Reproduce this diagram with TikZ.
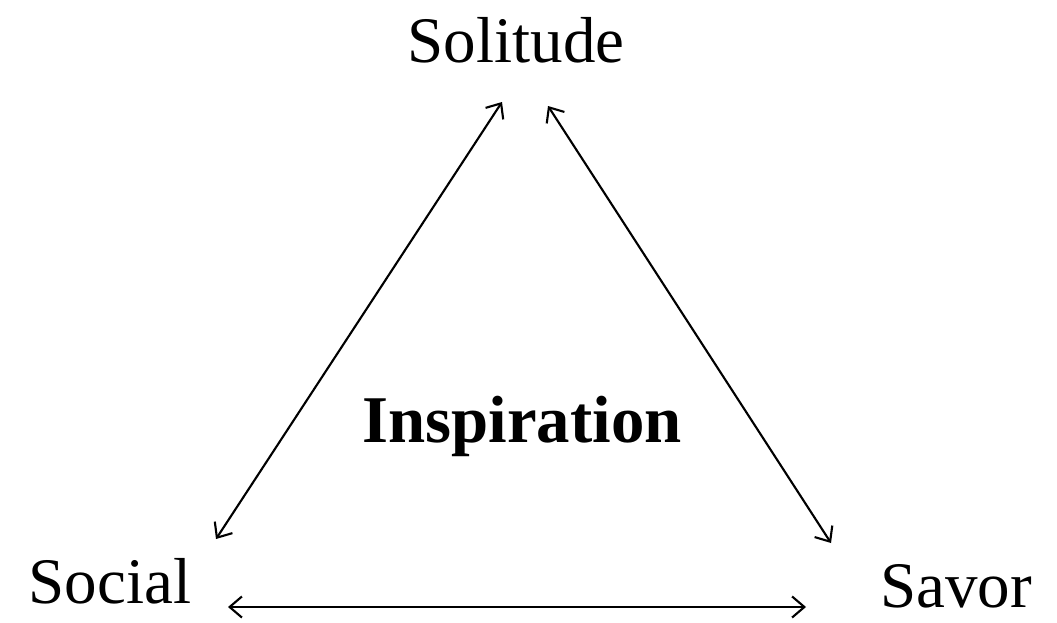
\documentclass[tikz,border=0pt]{standalone}
\usepackage{fontspec}
\setmainfont{Liberation Serif}
\usetikzlibrary{arrows.meta}

\begin{document}
\begin{tikzpicture}[
  x=0.02cm, y=-0.02cm,
  lbl/.style={font=\fontsize{37}{40}\selectfont, anchor=base, inner sep=0pt},
  core/.style={font=\fontsize{38}{42}\selectfont\bfseries, anchor=base, inner sep=0pt},
  arr/.style={{Straight Barb[length=7pt,width=12pt]}-{Straight Barb[length=7pt,width=12pt]},
    line width=1.2pt, draw=black},
]
\useasboundingbox (0,0) rectangle (1057,622);
% corners
\node[lbl] (sol) at (516,62) {Solitude};
\node[lbl] (soc) at (110,603) {Social};
\node[lbl] (sav) at (956,607) {Savor};
\node[core] (insp) at (522,442) {Inspiration};
% arrow ends
\coordinate (sol-l) at (502,102);
\coordinate (sol-r) at (548,106);
\coordinate (soc-t) at (216,539);
\coordinate (soc-r) at (228,607);
\coordinate (sav-t) at (831,543);
\coordinate (sav-l) at (806,607);
% edges
\draw[arr] (sol-l) -- (soc-t);
\draw[arr] (sol-r) -- (sav-t);
\draw[arr] (soc-r) -- (sav-l);
\end{tikzpicture}
\end{document}
